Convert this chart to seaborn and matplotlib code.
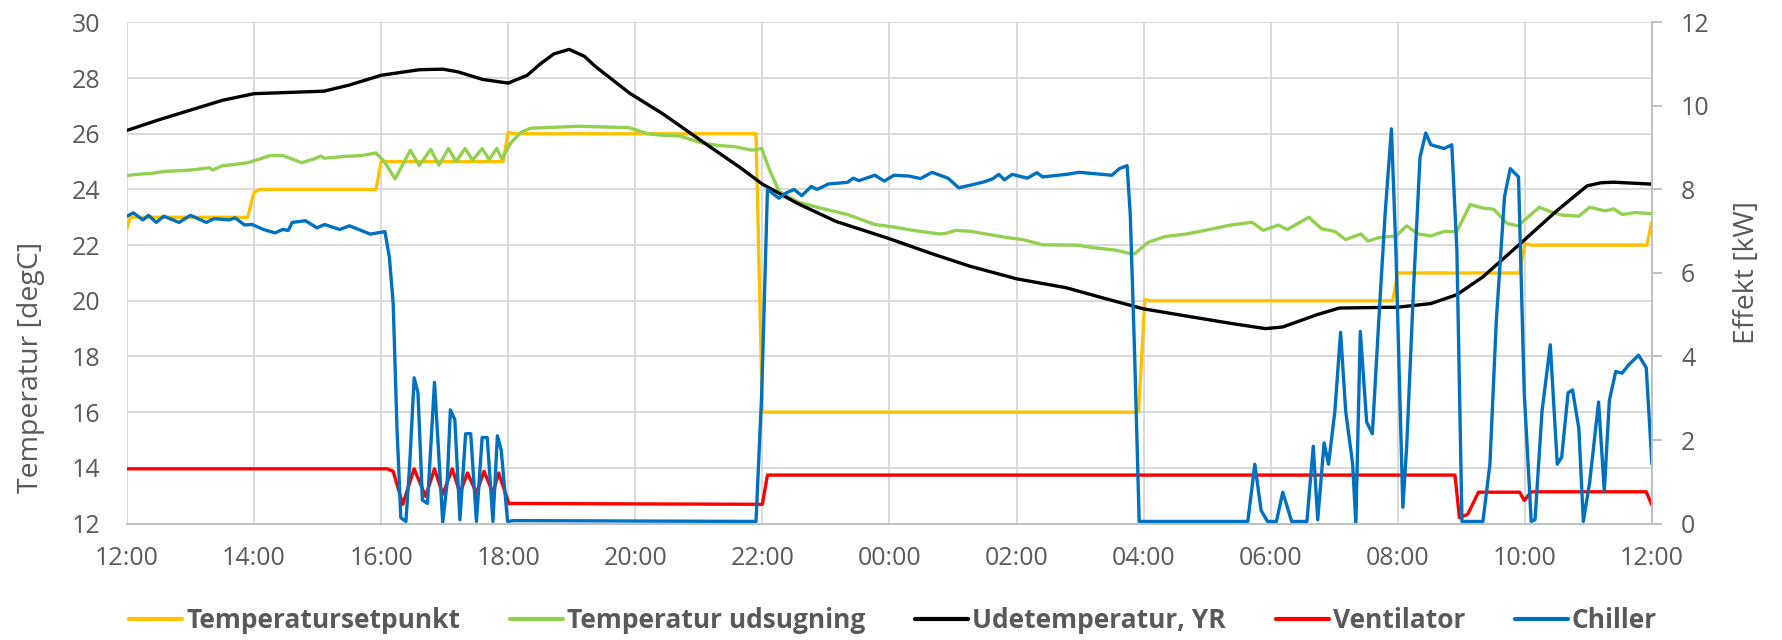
import matplotlib
matplotlib.use('Agg')
import matplotlib.pyplot as plt
import seaborn as sns
from matplotlib.lines import Line2D

# time axis in hours after 12:00
tick_hours = [0, 2, 4, 6, 8, 10, 12, 14, 16, 18, 20, 22, 24]
tick_labels = ['12:00', '14:00', '16:00', '18:00', '20:00', '22:00', '00:00',
               '02:00', '04:00', '06:00', '08:00', '10:00', '12:00']

# Temperatursetpunkt [degC]
t_set = [0, 0.05, 1.9, 2.0, 2.1, 3.92, 4.0, 5.92, 6.0, 6.1, 9.9, 10.0, 15.92,
         16.02, 16.1, 19.92, 20.0, 21.92, 22.0, 22.1, 23.92, 24.0]
v_set = [22.6, 23.0, 23.0, 23.9, 24.0, 24.0, 25.0, 25.0, 26.05, 26.0, 26.0, 16.0, 16.0,
         20.05, 20.0, 20.0, 21.0, 21.0, 22.05, 22.0, 22.0, 22.85]

# Temperatur udsugning [degC]
t_uds = [0, 0.2, 0.4, 0.6, 0.9, 1.1, 1.3, 1.35, 1.5, 1.7, 1.9, 2.1, 2.25, 2.45, 2.75,
         2.95, 3.05, 3.1, 3.4, 3.7, 3.92, 4.05, 4.22, 4.46, 4.6, 4.78, 4.91, 5.06, 5.18,
         5.32, 5.44, 5.59, 5.7, 5.82, 5.9, 6.04, 6.2, 6.35, 6.6, 7.1, 7.9, 8.2, 8.4, 8.7,
         9.05, 9.3, 9.55, 9.84, 9.99, 10.1, 10.26, 10.4, 10.56, 10.86, 11.34, 11.77,
         12.07, 12.37, 12.79, 12.9, 13.04, 13.27, 13.85, 14.1, 14.41, 14.96, 15.2, 15.56,
         15.8, 15.86, 16.07, 16.34, 16.68, 17.03, 17.37, 17.71, 17.88, 18.12, 18.26,
         18.6, 18.8, 19.01, 19.18, 19.42, 19.53, 19.7, 19.97, 20.14, 20.32, 20.52, 20.73,
         20.93, 21.14, 21.34, 21.51, 21.72, 21.89, 22.03, 22.23, 22.4, 22.58, 22.85,
         23.02, 23.26, 23.4, 23.53, 23.73, 24.0]
v_uds = [24.5, 24.55, 24.58, 24.65, 24.68, 24.72, 24.78, 24.7, 24.85, 24.9, 24.96, 25.1,
         25.22, 25.22, 24.96, 25.1, 25.2, 25.12, 25.18, 25.22, 25.31, 25.0, 24.38, 25.41,
         24.86, 25.44, 24.87, 25.47, 25.0, 25.47, 25.05, 25.47, 25.08, 25.47, 25.1, 25.67,
         26.05, 26.2, 26.22, 26.27, 26.22, 26.0, 25.95, 25.92, 25.67, 25.58, 25.54, 25.41,
         25.47, 24.77, 23.94, 23.75, 23.55, 23.36, 23.1, 22.74, 22.65, 22.53, 22.4, 22.43,
         22.53, 22.5, 22.27, 22.2, 22.01, 22.0, 21.91, 21.82, 21.69, 21.69, 22.1, 22.31,
         22.4, 22.56, 22.72, 22.82, 22.53, 22.72, 22.56, 23.0, 22.59, 22.49, 22.2, 22.4,
         22.14, 22.27, 22.33, 22.69, 22.4, 22.33, 22.49, 22.49, 23.46, 23.33, 23.29,
         22.78, 22.69, 22.97, 23.36, 23.2, 23.08, 23.04, 23.36, 23.23, 23.3, 23.1, 23.17,
         23.13]

# Udetemperatur, YR [degC]
t_ude = [0, 0.5, 1.0, 1.5, 2.0, 2.5, 3.1, 3.5, 4.0, 4.6, 4.97, 5.2, 5.6, 6.0, 6.3, 6.5,
         6.72, 6.96, 7.2, 7.37, 7.91, 8.45, 9.05, 9.66, 10.0, 10.56, 11.16, 12.0, 12.67,
         13.27, 14.0, 14.78, 15.38, 16.0, 16.68, 17.37, 17.92, 18.19, 18.74, 19.08, 20.0,
         20.52, 20.93, 21.34, 22.0, 22.5, 22.98, 23.2, 23.4, 24.0]
v_ude = [26.12, 26.5, 26.85, 27.2, 27.44, 27.48, 27.53, 27.75, 28.1, 28.3, 28.32, 28.23,
         27.95, 27.82, 28.1, 28.5, 28.87, 29.03, 28.78, 28.42, 27.46, 26.69, 25.73, 24.77,
         24.19, 23.49, 22.85, 22.23, 21.69, 21.24, 20.79, 20.47, 20.09, 19.71, 19.45,
         19.19, 19.0, 19.06, 19.51, 19.74, 19.77, 19.9, 20.22, 20.86, 22.2, 23.23, 24.13,
         24.24, 24.26, 24.19]

# Ventilator [kW]
t_ven = [0, 4.1, 4.19, 4.34, 4.52, 4.7, 4.84, 4.97, 5.12, 5.24, 5.36, 5.5, 5.62, 5.76,
         5.85, 6.01, 10.0, 10.08, 20.9, 20.97, 21.1, 21.27, 21.92, 21.99, 22.1, 23.91, 24.0]
v_ven = [1.31, 1.31, 1.25, 0.46, 1.31, 0.65, 1.31, 0.7, 1.31, 0.73, 1.21, 0.73, 1.25,
         0.73, 1.21, 0.48, 0.46, 1.16, 1.16, 0.14, 0.22, 0.75, 0.75, 0.55, 0.76, 0.76, 0.44]

# Chiller [kW]
t_chi = [0, 0.1, 0.25, 0.34, 0.46, 0.58, 0.82, 1.0, 1.25, 1.37, 1.61, 1.7, 1.85, 1.97,
         2.15, 2.33, 2.45, 2.54, 2.6, 2.81, 2.99, 3.11, 3.35, 3.5, 3.65, 3.83, 4.06, 4.13,
         4.19, 4.25, 4.31, 4.39, 4.45, 4.52, 4.58, 4.65, 4.73, 4.84, 4.9, 4.97, 5.04,
         5.09, 5.16, 5.24, 5.33, 5.41, 5.5, 5.59, 5.67, 5.76, 5.83, 5.89, 5.99, 6.09, 9.9,
         9.99, 10.08, 10.26, 10.38, 10.5, 10.62, 10.77, 10.86, 11.04, 11.34, 11.43, 11.52,
         11.77, 11.92, 12.07, 12.31, 12.49, 12.67, 12.92, 13.09, 13.27, 13.51, 13.63,
         13.72, 13.81, 13.93, 14.17, 14.32, 14.41, 14.78, 14.99, 15.5, 15.62, 15.74,
         15.79, 15.86, 15.93, 17.64, 17.75, 17.85, 17.95, 18.09, 18.19, 18.33, 18.57,
         18.67, 18.74, 18.84, 18.91, 19.01, 19.1, 19.18, 19.29, 19.34, 19.41, 19.51, 19.6,
         19.7, 19.8, 19.9, 19.97, 20.08, 20.14, 20.25, 20.35, 20.44, 20.52, 20.73, 20.85,
         20.93, 21.01, 21.34, 21.45, 21.55, 21.68, 21.77, 21.9, 21.99, 22.1, 22.16, 22.27,
         22.4, 22.51, 22.58, 22.68, 22.75, 22.85, 22.92, 23.02, 23.16, 23.25, 23.33,
         23.43, 23.53, 23.64, 23.79, 23.91, 24.0]
v_chi = [7.36, 7.44, 7.27, 7.38, 7.21, 7.36, 7.21, 7.38, 7.21, 7.30, 7.27, 7.32, 7.15,
         7.16, 7.04, 6.96, 7.04, 7.02, 7.21, 7.25, 7.08, 7.16, 7.04, 7.13, 7.04, 6.93,
         6.99, 6.38, 5.26, 2.27, 0.14, 0.05, 1.42, 3.49, 3.13, 0.56, 0.48, 3.38, 1.85,
         0.03, 0.99, 2.72, 2.49, 0.09, 2.15, 2.15, 0.05, 2.06, 2.06, 0.05, 2.1, 1.76, 0.05,
         0.07, 0.05, 3.13, 8.0, 7.79, 7.92, 8.0, 7.85, 8.07, 8.0, 8.13, 8.17, 8.27, 8.21,
         8.34, 8.2, 8.34, 8.32, 8.26, 8.41, 8.27, 8.04, 8.1, 8.19, 8.26, 8.36, 8.23, 8.36,
         8.27, 8.4, 8.3, 8.36, 8.41, 8.34, 8.5, 8.57, 7.4, 3.98, 0.05, 0.05, 1.42, 0.31,
         0.05, 0.05, 0.75, 0.05, 0.05, 1.85, 0.09, 1.93, 1.42, 2.69, 4.58, 2.69, 1.42, 0.0,
         4.6, 2.43, 2.15, 4.84, 7.4, 9.45, 6.55, 0.39, 1.85, 5.69, 8.77, 9.35, 9.07, 8.98,
         9.07, 6.55, 0.05, 0.05, 1.42, 4.84, 7.83, 8.5, 8.3, 3.13, 0.05, 0.09, 2.69, 4.28,
         1.42, 1.59, 3.13, 3.2, 2.27, 0.05, 0.99, 2.91, 0.78, 2.95, 3.64, 3.6, 3.81, 4.03,
         3.73, 1.42]

names = ['Temperatursetpunkt', 'Temperatur udsugning', 'Udetemperatur, YR', 'Ventilator', 'Chiller']
colors = ['#FFC000', '#92D050', '#000000', '#FF0000', '#0070C0']

sns.set_style('white')
plt.rcParams['font.family'] = ['Open Sans', 'DejaVu Sans']
txt = '#595959'
lw = 2.4

fig, ax = plt.subplots(figsize=(17.83, 6.4), dpi=100)
fig.subplots_adjust(left=0.0712, right=0.9265, top=0.965, bottom=0.182)
ax2 = ax.twinx()

sns.lineplot(x=t_set, y=v_set, ax=ax, color=colors[0], lw=lw, estimator=None, sort=False)
sns.lineplot(x=t_uds, y=v_uds, ax=ax, color=colors[1], lw=lw, estimator=None, sort=False)
sns.lineplot(x=t_ude, y=v_ude, ax=ax, color=colors[2], lw=lw, estimator=None, sort=False)
sns.lineplot(x=t_ven, y=v_ven, ax=ax2, color=colors[3], lw=lw, estimator=None, sort=False)
sns.lineplot(x=t_chi, y=v_chi, ax=ax2, color=colors[4], lw=lw, estimator=None, sort=False)

ax.set_xlim(0, 24)
ax.set_ylim(12, 30)
ax.set_yticks(range(12, 31, 2))
ax.set_xticks(tick_hours)
ax.set_xticklabels(tick_labels)
ax.grid(True, color='#D9D9D9', lw=1.4)
ax.set_axisbelow(True)
ax2.set_ylim(0, 12)
ax2.set_yticks(range(0, 13, 2))
ax2.grid(False)

for a in (ax, ax2):
    for s in a.spines.values():
        s.set_visible(False)
for side in ('right', 'bottom'):
    ax2.spines[side].set_visible(True)
    ax2.spines[side].set_color('#BFBFBF')
    ax2.spines[side].set_linewidth(1.4)

ax.tick_params(axis='y', length=0, pad=19, labelsize=18, labelcolor=txt)
ax.tick_params(axis='x', length=0, pad=16, labelsize=18, labelcolor=txt)
ax2.tick_params(axis='y', length=7, width=1.4, color='#BFBFBF', pad=14, labelsize=18, labelcolor=txt)

ax.set_xlabel('')
ax.set_ylabel('Temperatur [degC]', fontsize=20.5, color=txt)
ax.yaxis.set_label_coords(-0.054, 0.312)
ax2.set_ylabel('Effekt [kW]', fontsize=20.5, color=txt)
ax2.yaxis.set_label_coords(1.053, 0.5)

handles = [Line2D([0], [0], color=c, lw=3) for c in colors]
fig.legend(handles, names, loc='center', bbox_to_anchor=(0.501, 0.03), ncol=5,
           frameon=False, handlelength=2.0, handletextpad=0.15, columnspacing=1.9,
           prop={'size': 19, 'weight': 'bold'}, labelcolor=txt)

fig.savefig('out.png', dpi=100)
